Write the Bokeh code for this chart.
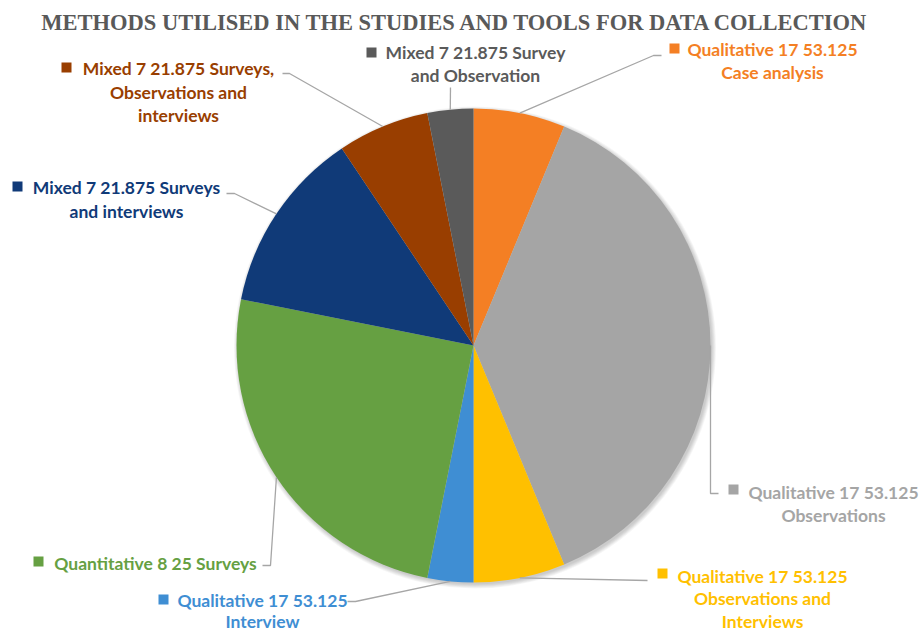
import math
from bokeh.plotting import figure
from bokeh.models import Range1d, ColumnDataSource
from bokeh.core.properties import value
from bokeh.embed import file_html
from bokeh.resources import INLINE

# ---- data ----
title = "METHODS UTILISED IN THE STUDIES AND TOOLS FOR DATA COLLECTION"
groups = ["Qualitative", "Qualitative", "Qualitative", "Qualitative",
          "Quantitative", "Mixed", "Mixed", "Mixed"]
group_n = [17, 17, 17, 17, 8, 7, 7, 7]
group_pct = [53.125, 53.125, 53.125, 53.125, 25, 21.875, 21.875, 21.875]
tools = ["Case analysis", "Observations", "Observations and Interviews", "Interview",
         "Surveys", "Surveys and interviews", "Surveys, Observations and interviews",
         "Survey and Observation"]
studies = [2, 12, 2, 1, 8, 4, 2, 1]
colors = ["#F47F24", "#A5A5A5", "#FFC000", "#3F8ED3",
          "#66A042", "#103A78", "#993E00", "#5A5A5A"]

# ---- layout (pixel positions, top-left origin) ----
W, H = 921, 631
CX, CY, R = 473, 345, 237
marker_pos = [(674, 48), (733, 489), (662, 573), (163, 599),
              (38, 561), (17, 186), (66, 67), (371, 52)]
label_cx = [772, 833, 762, 262, 155, 126, 178, 475]
label_ys = [[49, 72], [492, 515], [576, 598, 621], [600, 621],
            [563], [187, 211], [68, 92, 115], [52, 75]]
words_per_line = [[3, 2], [3, 1], [3, 2, 1], [3, 1], [4], [4, 2], [4, 2, 1], [4, 2]]
leader_pts = [[(653, 55), (661, 55)], [(710, 493), (718, 493)], [(647, 580)],
              [(355, 601), (347, 601)], [(270, 565), (262, 565)],
              [(234, 193), (226, 193)], [(289, 73), (282, 73)], [(450, 87)]]
FONT = "Lato"
FSIZE = "17.5px"


def Y(py):
    return H - py


p = figure(width=W, height=H, x_range=Range1d(0, W), y_range=Range1d(0, H),
           output_backend="svg", toolbar_location=None, min_border=0,
           x_axis_type=None, y_axis_type=None)
p.grid.visible = False
p.outline_line_color = None
p.background_fill_color = "white"
p.border_fill_color = "white"

# soft shadow
for i in range(6):
    p.circle(x=CX + 1.5, y=Y(CY) - 2, radius=R + 0.8 * i,
             fill_color="black", fill_alpha=0.035, line_color=None)

# wedges
total = sum(studies)
starts, ends, mids = [], [], []
cum = 0
for v in studies:
    a0 = math.pi / 2 - 2 * math.pi * cum / total
    cum += v
    a1 = math.pi / 2 - 2 * math.pi * cum / total
    starts.append(a0)
    ends.append(a1)
    mids.append((a0 + a1) / 2)
src = ColumnDataSource(dict(start=starts, end=ends, color=colors))
p.wedge(x=CX, y=Y(CY), radius=R, start_angle="start", end_angle="end",
        direction="clock", fill_color="color", line_color=None, source=src)

# leader lines
for i, m in enumerate(mids):
    ax = CX + R * math.cos(m)
    ay = Y(CY) + R * math.sin(m)
    xs = [ax] + [q[0] for q in leader_pts[i]]
    ys = [ay] + [Y(q[1]) for q in leader_pts[i]]
    p.line(xs, ys, line_color="#A6A6A6", line_width=1.3)

# labels
tx, ty, tt, tc = [], [], [], []
for i in range(len(studies)):
    full = f"{groups[i]} {group_n[i]} {group_pct[i]:g} {tools[i]}"
    words = full.split(" ")
    k = 0
    for j, n in enumerate(words_per_line[i]):
        tx.append(label_cx[i])
        ty.append(Y(label_ys[i][j]))
        tt.append(" ".join(words[k:k + n]))
        tc.append(colors[i])
        k += n
p.text(x=tx, y=ty, text=tt, text_color=tc, text_font=value(FONT),
       text_font_style="bold", text_font_size=FSIZE,
       text_align="center", text_baseline="middle")

p.scatter(x=[m[0] for m in marker_pos], y=[Y(m[1]) for m in marker_pos],
          marker="square", size=10, fill_color=colors, line_color=None)

# title
p.text(x=[455], y=[Y(22)], text=[title], text_color="#595959",
       text_font=value("Liberation Serif"), text_font_style="bold",
       text_font_size="22.5px", text_align="center", text_baseline="middle")

open("out.html", "w").write(file_html(p, INLINE))
